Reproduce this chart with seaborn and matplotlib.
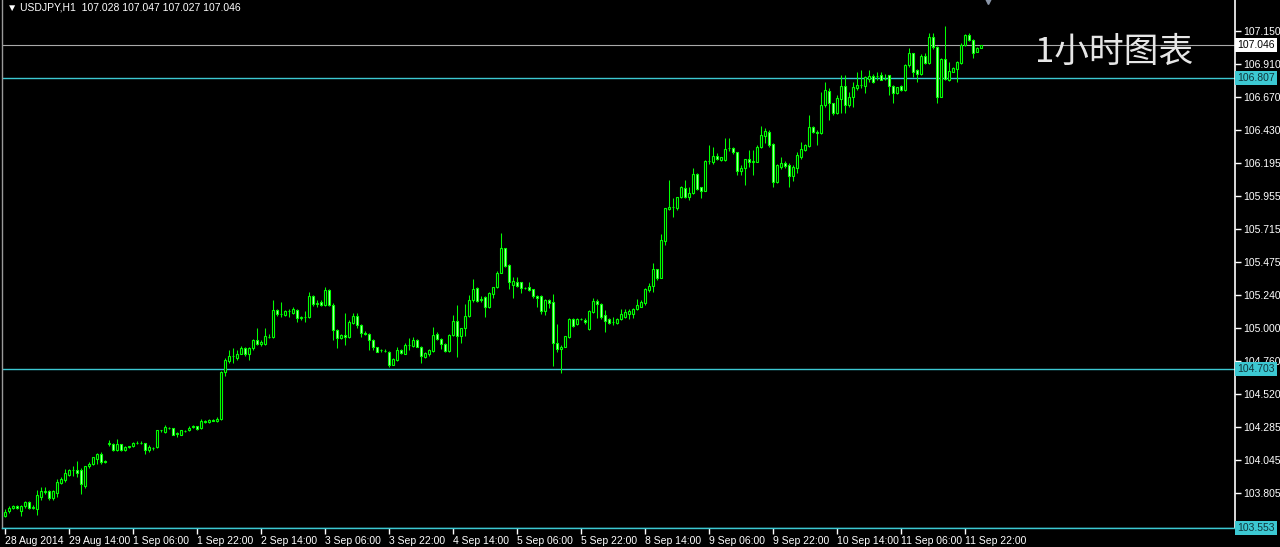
import numpy as np
import pandas as pd
import matplotlib
matplotlib.use("Agg")
import matplotlib.pyplot as plt
import matplotlib.transforms as mtransforms
import seaborn as sns

# ---------------- data (USDJPY H1) ----------------
opens = [
    103.640, 103.680, 103.700, 103.710, 103.680, 103.710, 103.740, 103.700, 103.690, 103.780,
    103.815, 103.820, 103.770, 103.810, 103.880, 103.900, 103.940, 103.970, 103.975, 103.975,
    103.860, 104.000, 104.020, 104.050, 104.090, 104.040, 104.165, 104.160, 104.115, 104.160,
    104.115, 104.140, 104.145, 104.170, 104.170, 104.170, 104.115, 104.135, 104.140, 104.260,
    104.245, 104.280, 104.275, 104.235, 104.230, 104.255, 104.260, 104.285, 104.290, 104.275,
    104.330, 104.320, 104.335, 104.330, 104.340, 104.685, 104.760, 104.795, 104.780, 104.815,
    104.853, 104.810, 104.853, 104.914, 104.885, 104.885, 104.935, 104.933, 105.130, 105.100,
    105.095, 105.120, 105.110, 105.130, 105.070, 105.080, 105.080, 105.232, 105.174, 105.190,
    105.170, 105.275, 105.170, 104.986, 104.925, 104.950, 104.935, 105.035, 105.087, 105.020,
    104.962, 104.958, 104.914, 104.860, 104.840, 104.835, 104.830, 104.733, 104.770, 104.842,
    104.815, 104.877, 104.870, 104.910, 104.865, 104.793, 104.815, 104.836, 104.955, 104.920,
    104.885, 104.836, 104.950, 105.050, 104.945, 104.998, 105.087, 105.200, 105.287, 105.200,
    105.222, 105.150, 105.246, 105.299, 105.400, 105.576, 105.456, 105.310, 105.335, 105.330,
    105.290, 105.300, 105.280, 105.230, 105.232, 105.125, 105.203, 105.190, 104.894, 104.850,
    104.865, 104.936, 105.063, 105.030, 105.065, 105.060, 104.995, 105.119, 105.196, 105.172,
    105.095, 105.064, 105.040, 105.035, 105.064, 105.083, 105.102, 105.102, 105.136, 105.155,
    105.180, 105.275, 105.305, 105.427, 105.365, 105.632, 105.860, 105.873, 105.866, 105.945,
    106.011, 105.945, 105.975, 106.114, 106.018, 105.994, 106.208, 106.204, 106.244, 106.216,
    106.216, 106.300, 106.300, 106.270, 106.136, 106.160, 106.220, 106.204, 106.204, 106.310,
    106.390, 106.420, 106.331, 106.059, 106.167, 106.190, 106.180, 106.100, 106.155, 106.234,
    106.290, 106.318, 106.451, 106.420, 106.410, 106.612, 106.716, 106.625, 106.557, 106.653,
    106.750, 106.613, 106.670, 106.733, 106.755, 106.750, 106.800, 106.822, 106.822, 106.830,
    106.800, 106.829, 106.750, 106.700, 106.750, 106.720, 106.900, 106.986, 106.865, 106.840,
    106.967, 106.918, 107.107, 107.034, 106.673, 106.943, 106.793, 106.854, 106.870, 106.914,
    107.046, 107.118, 107.082, 106.998, 107.028,
]
highs = [
    103.690, 103.710, 103.720, 103.720, 103.720, 103.750, 103.750, 103.720, 103.830, 103.850,
    103.850, 103.830, 103.830, 103.910, 103.920, 103.980, 103.980, 104.000, 104.040, 103.990,
    104.000, 104.030, 104.070, 104.095, 104.100, 104.045, 104.190, 104.170, 104.200, 104.165,
    104.145, 104.150, 104.175, 104.180, 104.180, 104.170, 104.155, 104.140, 104.265, 104.265,
    104.300, 104.285, 104.280, 104.245, 104.265, 104.265, 104.290, 104.300, 104.295, 104.340,
    104.335, 104.340, 104.345, 104.360, 104.690, 104.780, 104.840, 104.853, 104.840, 104.870,
    104.860, 104.860, 104.920, 105.000, 104.910, 105.000, 104.960, 105.203, 105.135, 105.190,
    105.130, 105.140, 105.150, 105.135, 105.090, 105.120, 105.263, 105.240, 105.200, 105.200,
    105.300, 105.280, 105.180, 104.990, 104.960, 105.107, 105.060, 105.107, 105.110, 105.030,
    104.975, 104.965, 104.920, 104.865, 104.850, 104.845, 104.835, 104.780, 104.860, 104.850,
    104.890, 104.925, 104.933, 104.920, 104.870, 104.830, 104.850, 105.005, 104.970, 104.930,
    104.890, 104.955, 105.094, 105.166, 105.000, 105.174, 105.239, 105.352, 105.300, 105.230,
    105.230, 105.260, 105.300, 105.410, 105.690, 105.580, 105.460, 105.370, 105.366, 105.335,
    105.300, 105.330, 105.285, 105.240, 105.240, 105.210, 105.210, 105.246, 105.030, 104.875,
    104.945, 105.075, 105.070, 105.070, 105.075, 105.075, 105.130, 105.215, 105.210, 105.180,
    105.130, 105.070, 105.080, 105.075, 105.136, 105.140, 105.136, 105.145, 105.208, 105.200,
    105.290, 105.324, 105.468, 105.430, 105.680, 105.870, 106.071, 105.940, 105.950, 106.025,
    106.071, 106.023, 106.155, 106.120, 106.020, 106.215, 106.324, 106.312, 106.264, 106.240,
    106.372, 106.372, 106.312, 106.275, 106.180, 106.225, 106.288, 106.288, 106.320, 106.461,
    106.445, 106.430, 106.340, 106.185, 106.240, 106.210, 106.190, 106.180, 106.275, 106.347,
    106.330, 106.540, 106.460, 106.430, 106.709, 106.781, 106.733, 106.630, 106.685, 106.829,
    106.829, 106.709, 106.781, 106.853, 106.865, 106.820, 106.865, 106.840, 106.853, 106.853,
    106.840, 106.830, 106.755, 106.745, 106.757, 106.910, 107.022, 106.990, 106.870, 106.980,
    106.986, 107.135, 107.135, 107.040, 106.950, 107.184, 106.925, 106.890, 106.930, 107.058,
    107.125, 107.130, 107.090, 107.030, 107.047,
]
lows = [
    103.630, 103.660, 103.690, 103.690, 103.640, 103.700, 103.690, 103.690, 103.650, 103.760,
    103.800, 103.760, 103.760, 103.780, 103.870, 103.890, 103.930, 103.930, 103.920, 103.800,
    103.840, 103.990, 104.010, 104.020, 104.020, 104.025, 104.150, 104.110, 104.110, 104.110,
    104.110, 104.135, 104.140, 104.165, 104.160, 104.090, 104.100, 104.120, 104.135, 104.250,
    104.240, 104.270, 104.225, 104.210, 104.225, 104.250, 104.255, 104.280, 104.265, 104.270,
    104.310, 104.315, 104.325, 104.320, 104.335, 104.650, 104.745, 104.745, 104.770, 104.810,
    104.800, 104.770, 104.840, 104.880, 104.870, 104.880, 104.930, 104.930, 105.090, 105.080,
    105.090, 105.080, 105.100, 105.045, 105.060, 105.045, 105.070, 105.160, 105.155, 105.160,
    105.160, 105.160, 104.914, 104.853, 104.920, 104.878, 104.930, 105.030, 104.998, 104.938,
    104.950, 104.842, 104.840, 104.825, 104.830, 104.825, 104.720, 104.730, 104.760, 104.815,
    104.810, 104.840, 104.865, 104.860, 104.745, 104.785, 104.795, 104.830, 104.910, 104.846,
    104.830, 104.830, 104.940, 104.788, 104.890, 104.940, 105.080, 105.190, 105.190, 105.190,
    105.082, 105.145, 105.220, 105.290, 105.395, 105.440, 105.280, 105.220, 105.300, 105.250,
    105.280, 105.270, 105.215, 105.155, 105.100, 105.094, 105.142, 104.725, 104.830, 104.672,
    104.860, 104.930, 105.010, 105.020, 105.060, 105.030, 104.985, 105.110, 105.070, 105.064,
    104.974, 105.030, 105.023, 105.030, 105.060, 105.070, 105.064, 105.070, 105.130, 105.150,
    105.170, 105.264, 105.264, 105.348, 105.360, 105.600, 105.850, 105.806, 105.855, 105.940,
    105.940, 105.926, 105.970, 106.000, 105.938, 105.990, 106.186, 106.186, 106.215, 106.210,
    106.210, 106.283, 106.260, 106.107, 106.107, 106.035, 106.167, 106.107, 106.200, 106.300,
    106.336, 106.310, 106.020, 106.050, 106.150, 106.160, 106.022, 106.060, 106.118, 106.220,
    106.280, 106.310, 106.410, 106.323, 106.400, 106.600, 106.504, 106.540, 106.550, 106.557,
    106.552, 106.600, 106.600, 106.720, 106.733, 106.697, 106.780, 106.775, 106.790, 106.790,
    106.790, 106.685, 106.624, 106.690, 106.715, 106.715, 106.890, 106.817, 106.781, 106.830,
    106.910, 106.910, 107.020, 106.629, 106.670, 106.790, 106.785, 106.850, 106.781, 106.910,
    107.040, 107.075, 106.950, 106.995, 107.027,
]
closes = [
    103.670, 103.700, 103.710, 103.700, 103.710, 103.740, 103.700, 103.705, 103.790, 103.820,
    103.825, 103.770, 103.820, 103.890, 103.910, 103.950, 103.970, 103.975, 103.950, 103.870,
    104.000, 104.020, 104.065, 104.090, 104.030, 104.030, 104.170, 104.115, 104.160, 104.115,
    104.140, 104.145, 104.170, 104.170, 104.172, 104.115, 104.140, 104.130, 104.260, 104.260,
    104.285, 104.275, 104.230, 104.240, 104.260, 104.255, 104.280, 104.290, 104.270, 104.330,
    104.320, 104.335, 104.330, 104.340, 104.685, 104.770, 104.800, 104.795, 104.815, 104.853,
    104.810, 104.853, 104.914, 104.885, 104.900, 104.940, 104.935, 105.131, 105.100, 105.100,
    105.120, 105.120, 105.135, 105.070, 105.080, 105.080, 105.232, 105.174, 105.180, 105.170,
    105.275, 105.170, 104.986, 104.925, 104.950, 104.935, 105.047, 105.087, 105.020, 104.962,
    104.960, 104.910, 104.860, 104.830, 104.840, 104.835, 104.733, 104.774, 104.842, 104.820,
    104.877, 104.880, 104.910, 104.865, 104.800, 104.820, 104.840, 104.950, 104.920, 104.885,
    104.836, 104.950, 105.050, 104.945, 104.998, 105.087, 105.200, 105.280, 105.198, 105.210,
    105.150, 105.250, 105.299, 105.400, 105.576, 105.448, 105.335, 105.340, 105.304, 105.287,
    105.290, 105.275, 105.230, 105.220, 105.125, 105.200, 105.183, 104.894, 104.846, 104.865,
    104.940, 105.063, 105.015, 105.063, 105.068, 105.040, 105.120, 105.196, 105.172, 105.078,
    105.054, 105.035, 105.042, 105.066, 105.102, 105.119, 105.124, 105.140, 105.167, 105.186,
    105.283, 105.307, 105.427, 105.360, 105.637, 105.866, 105.873, 105.876, 105.945, 106.018,
    105.945, 105.980, 106.114, 106.003, 105.994, 106.208, 106.210, 106.244, 106.220, 106.235,
    106.293, 106.302, 106.270, 106.136, 106.160, 106.220, 106.204, 106.206, 106.312, 106.396,
    106.428, 106.324, 106.059, 106.180, 106.190, 106.172, 106.100, 106.167, 106.251, 106.294,
    106.323, 106.451, 106.420, 106.410, 106.612, 106.721, 106.625, 106.552, 106.660, 106.750,
    106.613, 106.672, 106.745, 106.757, 106.757, 106.817, 106.822, 106.781, 106.820, 106.794,
    106.800, 106.750, 106.700, 106.740, 106.720, 106.902, 106.986, 106.853, 106.840, 106.967,
    106.918, 107.107, 107.030, 106.668, 106.943, 106.798, 106.860, 106.878, 106.926, 107.046,
    107.118, 107.082, 106.991, 107.022, 107.046,
]

time_labels = ["28 Aug 2014", "29 Aug 14:00", "1 Sep 06:00", "1 Sep 22:00", "2 Sep 14:00",
               "3 Sep 06:00", "3 Sep 22:00", "4 Sep 14:00", "5 Sep 06:00", "5 Sep 22:00",
               "8 Sep 14:00", "9 Sep 06:00", "9 Sep 22:00", "10 Sep 14:00", "11 Sep 06:00",
               "11 Sep 22:00"]
time_label_bars = [0, 16, 32, 48, 64, 80, 96, 112, 128, 144, 160, 176, 192, 208, 224, 240]
price_ticks = [107.150, 106.910, 106.670, 106.430, 106.195, 105.955, 105.715, 105.475,
               105.240, 105.000, 104.760, 104.520, 104.285, 104.045, 103.805]
level_lines = [106.807, 104.703, 103.553]
bid_price = 107.046
header = "▼ USDJPY,H1  107.028 107.047 107.027 107.046"
title_cn = "1小时图表"

# ---------------- styling ----------------
sns.set_style("dark", {"axes.facecolor": "black", "figure.facecolor": "black"})
plt.rcParams["font.family"] = ["Liberation Sans", "DejaVu Sans", "Noto Sans CJK SC"]

df = pd.DataFrame({"bar": np.arange(len(closes)), "open": opens, "high": highs,
                   "low": lows, "close": closes})
df["bull"] = df["close"] >= df["open"]

W, H = 1280, 547
fig = plt.figure(figsize=(W / 100, H / 100), dpi=100, facecolor="black")
ax = fig.add_axes([2 / W, 19 / H, 1233 / W, 528 / H])
ax.set_facecolor("black")

green = "#00ff00"
bear_fill = "#b8ffb8"
cyan = "#3cc8d2"

# horizontal levels
ax.axhline(bid_price, color="#a9a9a9", lw=0.8, zorder=1)
for lv in level_lines:
    ax.axhline(lv, color=cyan, lw=1.0, zorder=1)

# wicks
ax.vlines(df["bar"], df["low"], df["high"], color=green, lw=0.75, zorder=2)
# bodies
body_bottom = df[["open", "close"]].min(axis=1)
body_height = (df["close"] - df["open"]).abs()
faces = np.where(df["bull"], "black", bear_fill)
ax.bar(df["bar"], body_height, bottom=body_bottom, width=0.55, color=faces,
       edgecolor=green, linewidth=0.8, zorder=3)

ax.set_xlim(-0.75, 307.5)
ax.set_ylim(103.554, 107.372)

# x axis
ax.set_xticks(time_label_bars)
ax.set_xticklabels(time_labels)
for lbl in ax.get_xticklabels():
    lbl.set_horizontalalignment("left")
ax.tick_params(axis="x", colors="white", labelcolor="white", labelsize=7.5,
               direction="out", length=4, width=1, pad=2, bottom=True)

# y axis (right)
ax.yaxis.tick_right()
ax.set_yticks(price_ticks)
ax.set_yticklabels([f"{v:.3f}" for v in price_ticks])
ax.tick_params(axis="y", colors="white", labelcolor="white", labelsize=7.5,
               direction="out", length=4, width=1, pad=2, right=True, left=False)
ax.grid(False)

ax.spines["top"].set_visible(False)
ax.spines["right"].set_color("white")
ax.spines["right"].set_linewidth(1.2)
ax.spines["bottom"].set_color(cyan)
ax.spines["bottom"].set_linewidth(1.0)
ax.spines["left"].set_color("#9a9a9a")
ax.spines["left"].set_linewidth(1.0)

# price tags on the right axis
trans = mtransforms.blended_transform_factory(ax.transAxes, ax.transData)
ax.text(1.0018, bid_price, f"{bid_price:.3f}", transform=trans, ha="left", va="center",
        fontsize=7.5, color="black", clip_on=False, zorder=10,
        bbox=dict(boxstyle="square,pad=0.2", fc="white", ec="none"))
for lv in level_lines:
    ax.text(1.0018, lv, f"{lv:.3f}", transform=trans, ha="left", va="center",
            fontsize=7.5, color="#10343a", clip_on=False, zorder=10,
            bbox=dict(boxstyle="square,pad=0.2", fc=cyan, ec="none"))

# shift marker at top
ax.plot([245.75], [107.372], marker="v", color="#8a96a8", ms=6, clip_on=False, zorder=5)

# header and caption
fig.text(7 / W, 1 - 7 / H, header, color="white", fontsize=7.5, ha="left", va="center")
ax.text(1033 / 1233, 1 - 52 / 528, title_cn, transform=ax.transAxes, color="#e6e6e6",
        fontsize=25, ha="left", va="center", family=["Noto Sans CJK SC", "DejaVu Sans"],
        zorder=6)

fig.savefig("out.png", dpi=100, facecolor="black")
